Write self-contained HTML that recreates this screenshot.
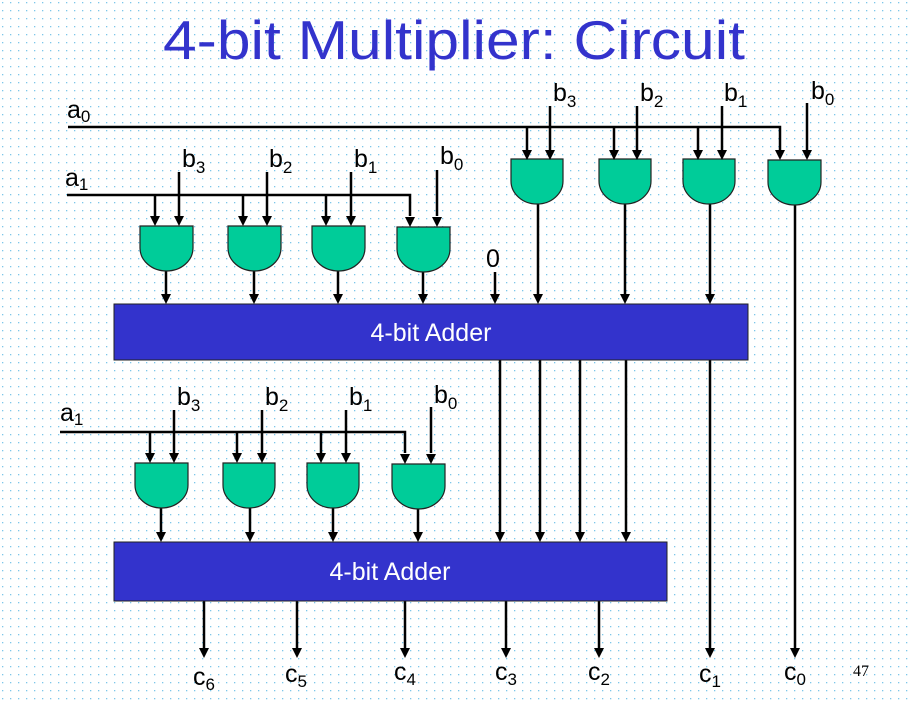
<!DOCTYPE html>
<html><head><meta charset="utf-8"><style>
html,body{margin:0;padding:0;background:#fff;}
svg{display:block;}
text{font-family:"Liberation Sans",sans-serif;}
</style></head><body>
<svg width="908" height="705" viewBox="0 0 908 705" xmlns="http://www.w3.org/2000/svg">
<defs>
<pattern id="dots" x="0" y="0" width="8" height="8" patternUnits="userSpaceOnUse">
<rect x="2" y="2" width="1.3" height="1.3" fill="#7cc6ea"/>
</pattern>
</defs>
<rect width="908" height="705" fill="url(#dots)"/>
<text x="454" y="59" font-size="55" fill="#3333cc" text-anchor="middle" textLength="582" lengthAdjust="spacingAndGlyphs">4-bit Multiplier: Circuit</text>

<g stroke="#000" stroke-width="2.5" fill="none">
<polyline points="68,127 780,127 780,150"/>
<line x1="527" y1="127" x2="527" y2="150"/><line x1="550" y1="106" x2="550" y2="150"/>
<line x1="614" y1="127" x2="614" y2="150"/><line x1="637" y1="106" x2="637" y2="150"/>
<line x1="698" y1="127" x2="698" y2="150"/><line x1="722" y1="106" x2="722" y2="150"/>
<line x1="807" y1="103" x2="807" y2="150"/>
<line x1="538" y1="204" x2="538" y2="294"/>
<line x1="625" y1="204" x2="625" y2="294"/>
<line x1="710" y1="204" x2="710" y2="294"/>
<line x1="795" y1="205" x2="795" y2="648"/>
<line x1="495" y1="272" x2="495" y2="294"/>
<polyline points="67,195 410,195 410,216"/>
<line x1="155" y1="195" x2="155" y2="216"/><line x1="179" y1="172" x2="179" y2="216"/>
<line x1="243" y1="195" x2="243" y2="216"/><line x1="267" y1="172" x2="267" y2="216"/>
<line x1="326" y1="195" x2="326" y2="216"/><line x1="351" y1="172" x2="351" y2="216"/>
<line x1="437" y1="170" x2="437" y2="216"/>
<line x1="166" y1="271" x2="166" y2="294"/>
<line x1="254" y1="271" x2="254" y2="294"/>
<line x1="338" y1="271" x2="338" y2="294"/>
<line x1="423" y1="271" x2="423" y2="294"/>
<line x1="500" y1="360" x2="500" y2="532"/>
<line x1="540" y1="360" x2="540" y2="532"/>
<line x1="580" y1="360" x2="580" y2="532"/>
<line x1="626" y1="360" x2="626" y2="532"/>
<line x1="710" y1="360" x2="710" y2="648"/>
<polyline points="60,432 405,432 405,453"/>
<line x1="150" y1="432" x2="150" y2="453"/><line x1="174" y1="410" x2="174" y2="453"/>
<line x1="237" y1="432" x2="237" y2="453"/><line x1="262" y1="410" x2="262" y2="453"/>
<line x1="321" y1="432" x2="321" y2="453"/><line x1="346" y1="410" x2="346" y2="453"/>
<line x1="431" y1="407" x2="431" y2="453"/>
<line x1="161" y1="508" x2="161" y2="532"/>
<line x1="250" y1="508" x2="250" y2="532"/>
<line x1="333" y1="508" x2="333" y2="532"/>
<line x1="418" y1="508" x2="418" y2="532"/>
<line x1="204" y1="601" x2="204" y2="648"/>
<line x1="297" y1="601" x2="297" y2="648"/>
<line x1="405" y1="601" x2="405" y2="648"/>
<line x1="506" y1="601" x2="506" y2="648"/>
<line x1="599" y1="601" x2="599" y2="648"/>
</g>

<g fill="#00cc99" stroke="#222" stroke-width="1.2">
<path d="M511,159 H563 V181 A26,23 0 0 1 511,181 Z"/>
<path d="M599,159 H651 V181 A26,23 0 0 1 599,181 Z"/>
<path d="M683,159 H735 V181 A26,23 0 0 1 683,181 Z"/>
<path d="M768,160 H821 V182 A26.5,23 0 0 1 768,182 Z"/>
<path d="M140,226 H193 V248 A26.5,23 0 0 1 140,248 Z"/>
<path d="M228,226 H281 V248 A26.5,23 0 0 1 228,248 Z"/>
<path d="M312,226 H365 V248 A26.5,23 0 0 1 312,248 Z"/>
<path d="M397,227 H450 V249 A26.5,23 0 0 1 397,249 Z"/>
<path d="M135,463 H188 V485 A26.5,23 0 0 1 135,485 Z"/>
<path d="M223,463 H275 V485 A26,23 0 0 1 223,485 Z"/>
<path d="M307,463 H359 V485 A26,23 0 0 1 307,485 Z"/>
<path d="M392,464 H445 V486 A26.5,23 0 0 1 392,486 Z"/>
</g>

<rect x="114" y="304" width="634" height="56" fill="#3333cc" stroke="#222" stroke-width="1"/>
<text x="431" y="341" font-size="25" fill="#fff" text-anchor="middle">4-bit Adder</text>
<rect x="114" y="542" width="553" height="59" fill="#3333cc" stroke="#222" stroke-width="1"/>
<text x="390" y="580" font-size="25" fill="#fff" text-anchor="middle">4-bit Adder</text>

<g fill="#000">
<path d="M522,150 h10 l-5,10 z M545,150 h10 l-5,10 z M609,150 h10 l-5,10 z M632,150 h10 l-5,10 z M693,150 h10 l-5,10 z M717,150 h10 l-5,10 z M775,150 h10 l-5,10 z M802,150 h10 l-5,10 z"/>
<path d="M533,294 h10 l-5,10 z M620,294 h10 l-5,10 z M705,294 h10 l-5,10 z M490,294 h10 l-5,10 z"/>
<path d="M150,216 h10 l-5,10 z M174,216 h10 l-5,10 z M238,216 h10 l-5,10 z M262,216 h10 l-5,10 z M321,216 h10 l-5,10 z M346,216 h10 l-5,10 z M405,217 h10 l-5,10 z M432,217 h10 l-5,10 z"/>
<path d="M161,294 h10 l-5,10 z M249,294 h10 l-5,10 z M333,294 h10 l-5,10 z M418,294 h10 l-5,10 z"/>
<path d="M495,532 h10 l-5,10 z M535,532 h10 l-5,10 z M575,532 h10 l-5,10 z M621,532 h10 l-5,10 z"/>
<path d="M145,453 h10 l-5,10 z M169,453 h10 l-5,10 z M232,453 h10 l-5,10 z M257,453 h10 l-5,10 z M316,453 h10 l-5,10 z M341,453 h10 l-5,10 z M400,454 h10 l-5,10 z M426,454 h10 l-5,10 z"/>
<path d="M156,532 h10 l-5,10 z M245,532 h10 l-5,10 z M328,532 h10 l-5,10 z M413,532 h10 l-5,10 z"/>
<path d="M199,648 h10 l-5,10 z M292,648 h10 l-5,10 z M400,648 h10 l-5,10 z M501,648 h10 l-5,10 z M594,648 h10 l-5,10 z M705,648 h10 l-5,10 z M790,648 h10 l-5,10 z"/>
</g>

<g font-size="25" fill="#000">
<text x="67" y="118">a<tspan font-size="17" dy="4">0</tspan></text>
<text x="553" y="101">b<tspan font-size="17" dy="6">3</tspan></text>
<text x="640" y="101">b<tspan font-size="17" dy="6">2</tspan></text>
<text x="724" y="101">b<tspan font-size="17" dy="6">1</tspan></text>
<text x="811" y="99">b<tspan font-size="17" dy="6">0</tspan></text>
<text x="486" y="267">0</text>
<text x="65" y="186">a<tspan font-size="17" dy="4">1</tspan></text>
<text x="182" y="167">b<tspan font-size="17" dy="6">3</tspan></text>
<text x="269" y="167">b<tspan font-size="17" dy="6">2</tspan></text>
<text x="354" y="167">b<tspan font-size="17" dy="6">1</tspan></text>
<text x="440" y="164">b<tspan font-size="17" dy="6">0</tspan></text>
<text x="60" y="421">a<tspan font-size="17" dy="4">1</tspan></text>
<text x="177" y="405">b<tspan font-size="17" dy="6">3</tspan></text>
<text x="265" y="405">b<tspan font-size="17" dy="6">2</tspan></text>
<text x="349" y="405">b<tspan font-size="17" dy="6">1</tspan></text>
<text x="434" y="403">b<tspan font-size="17" dy="6">0</tspan></text>
<text x="193" y="685">c<tspan font-size="17" dy="5">6</tspan></text>
<text x="285" y="682">c<tspan font-size="17" dy="5">5</tspan></text>
<text x="394" y="680">c<tspan font-size="17" dy="5">4</tspan></text>
<text x="495" y="680">c<tspan font-size="17" dy="5">3</tspan></text>
<text x="588" y="680">c<tspan font-size="17" dy="5">2</tspan></text>
<text x="699" y="682">c<tspan font-size="17" dy="5">1</tspan></text>
<text x="784" y="680">c<tspan font-size="17" dy="5">0</tspan></text>
</g>
<text x="853" y="676" font-size="16" fill="#000" style="font-family:'Liberation Serif',serif">47</text>
</svg>
</body></html>
